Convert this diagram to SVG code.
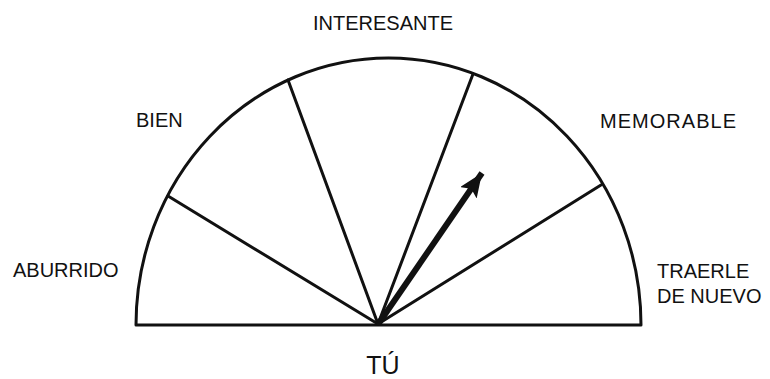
<svg xmlns="http://www.w3.org/2000/svg" width="770" height="379" viewBox="0 0 770 379">
<style>
.ln{stroke:#111;stroke-width:3;fill:none;stroke-linecap:round;stroke-linejoin:round}
.lb{font-family:"Liberation Sans",Arial,sans-serif;font-size:20px;fill:#111}
</style>
<defs>
<marker id="ah" markerUnits="userSpaceOnUse" markerWidth="26" markerHeight="22" refX="24" refY="10" orient="auto">
<path d="M0,0 L24,10 L0,20 L5,10 Z" fill="#111"/>
</marker>
</defs>
<rect width="770" height="379" fill="#fff"/>
<g id="gauge">
<path class="ln" d="M136,325 L641,325 M136,325 A252.5,267 0 0 1 641,325"/>
</g>
<g id="connectors">
<line class="ln" x1="378" y1="324" x2="168" y2="196"/>
<line class="ln" x1="378" y1="324" x2="288" y2="80"/>
<line class="ln" x1="378" y1="324" x2="473" y2="74"/>
<line class="ln" x1="378" y1="324" x2="601" y2="185"/>
<line stroke="#111" stroke-width="6" x1="379" y1="323" x2="482" y2="173" marker-end="url(#ah)"/>
</g>
<g id="labels">
<text class="lb" x="13" y="277">ABURRIDO</text>
<text class="lb" x="136" y="127">BIEN</text>
<text class="lb" x="383" y="30" text-anchor="middle">INTERESANTE</text>
<text class="lb" x="600" y="128" textLength="136">MEMORABLE</text>
<text class="lb" x="657" y="278">TRAERLE</text>
<text class="lb" x="657" y="303">DE NUEVO</text>
<text class="lb" x="383" y="374" text-anchor="middle" style="font-size:25px">TÚ</text>
</g>
</svg>
